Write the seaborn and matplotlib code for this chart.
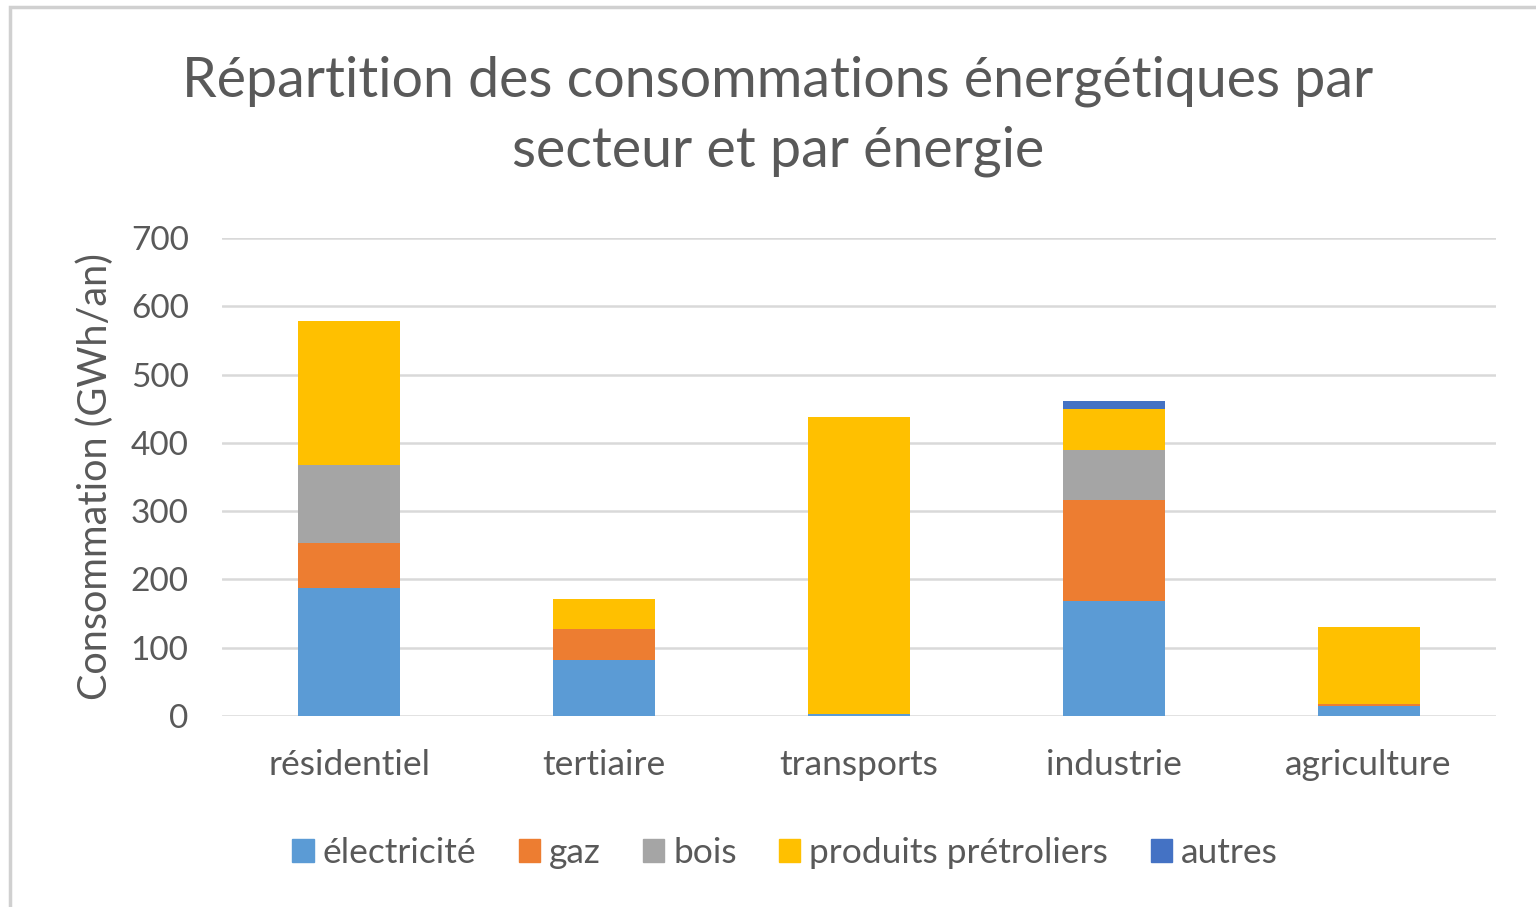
import numpy as np
import matplotlib
matplotlib.use("Agg")
import matplotlib.pyplot as plt
from matplotlib.patches import Rectangle
import seaborn as sns

# Consumption by sector and energy source (GWh/an)
secteurs = ["résidentiel", "tertiaire", "transports", "industrie", "agriculture"]
energies = ["électricité", "gaz", "bois", "produits prétroliers", "autres"]
electricite = [188, 82, 3, 169, 15]
gaz = [66, 45, 0, 148, 3]
bois = [114, 0, 0, 72, 0]
produits_petroliers = [211, 45, 435, 60, 112]
autres = [0, 0, 0, 12, 0]
couleurs = ["#5B9BD5", "#ED7D31", "#A5A5A5", "#FFC000", "#4472C4"]
y_ticks = [0, 100, 200, 300, 400, 500, 600, 700]

series = [electricite, gaz, bois, produits_petroliers, autres]

sns.set_theme(style="white")
plt.rcParams["font.family"] = ["Lato", "DejaVu Sans"]
gris = "#595959"

fig = plt.figure(figsize=(15.36, 9.07), dpi=100)
ax = fig.add_axes([222 / 1536, 1 - 716 / 907, 1274 / 1536, 478 / 907])

# Outer chart frame
fig.patches.append(Rectangle((10 / 1536, -0.01), 1.02, 1 - 7 / 907 + 0.01,
                             transform=fig.transFigure, fill=False,
                             edgecolor="#d0d0d0", linewidth=2.5, zorder=0))

bas = np.zeros(len(secteurs))
for nom, vals, c in zip(energies, series, couleurs):
    sns.barplot(x=secteurs, y=vals, bottom=bas, color=c, width=0.40,
                label=nom, ax=ax, saturation=1, linewidth=0, zorder=3,
                legend=False)
    bas = bas + np.array(vals)

if ax.get_legend() is not None:
    ax.get_legend().remove()

ax.set_xlim(-0.5, 4.5)
ax.set_ylim(0, 700)
ax.set_yticks(y_ticks)
ax.yaxis.grid(True, color="#d9d9d9", linewidth=1.8, zorder=0)
ax.set_axisbelow(True)
for s in ax.spines.values():
    s.set_visible(False)
ax.tick_params(axis="y", length=0, colors=gris, labelsize=24, pad=24)
ax.tick_params(axis="x", length=0, colors=gris, labelsize=25.5, pad=24)
ax.set_ylabel("Consommation (GWh/an)", color=gris, fontsize=28.5, labelpad=12)
ax.set_xlabel("")

fig.text(778 / 1536, 1 - 116 / 907,
         "Répartition des consommations énergétiques par\nsecteur et par énergie",
         ha="center", va="center", fontsize=40, color=gris, linespacing=1.45)

handles = [Rectangle((0, 0), 1, 1, color=c) for c in couleurs]
fig.legend(handles, energies, loc="center", ncol=5,
           bbox_to_anchor=(785 / 1536, 1 - 853 / 907), frameon=False,
           fontsize=25.5, handlelength=0.6, handleheight=0.6,
           handletextpad=0.25, columnspacing=1.2, labelcolor=gris)

fig.savefig("out.png", dpi=100, facecolor="white")
